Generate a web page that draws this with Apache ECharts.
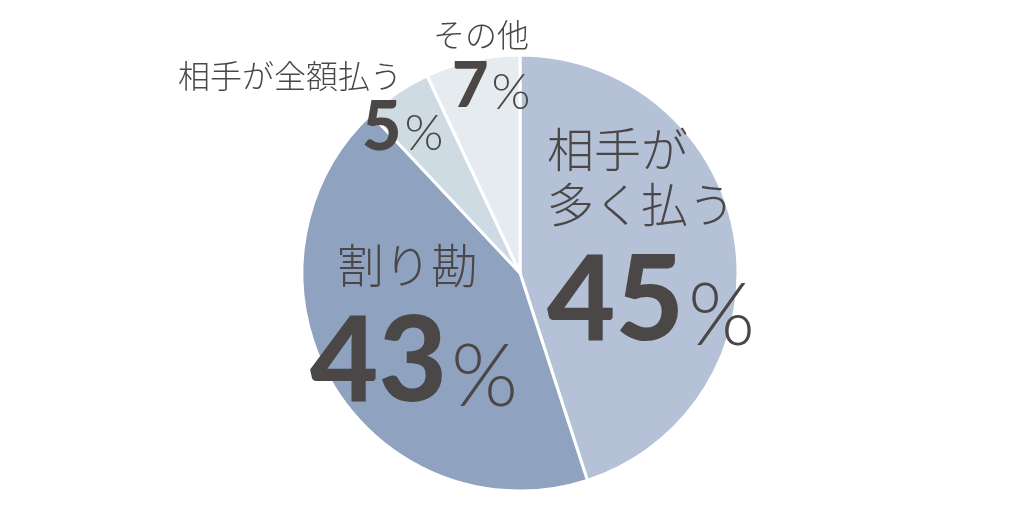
<!DOCTYPE html>
<html><head><meta charset="utf-8">
<script src="https://cdn.jsdelivr.net/npm/echarts@6/dist/echarts.min.js"></script>
<style>html,body{margin:0;padding:0;background:#fff}#c{width:1024px;height:509px}</style>
</head><body><div id="c"></div>
<script>
const categories = ['相手が多く払う', '割り勘', '相手が全額払う', 'その他'];
const values = [45, 43, 5, 7];
const labelNames = ['相手が\n多く払う', '割り勘', '相手が全額払う', 'その他'];

const colors = ['#b4c1d7', '#8fa2c0', '#cfdbe3', '#e5ebef'];
const TXT = '#4b4747';
const JP = '"Noto Sans CJK JP", sans-serif';
const NUM = 'Lato, "Noto Sans", sans-serif';

function bigRich(namePad) {
  return {
    name: {fontFamily: JP, fontWeight: 300, fontSize: 47, lineHeight: 55, color: TXT, padding: [0, 0, 0, namePad]},
    num: {fontFamily: NUM, fontWeight: 900, fontSize: 118, lineHeight: 140, color: TXT},
    pct: {fontFamily: NUM, fontWeight: 300, fontSize: 86, lineHeight: 110, color: TXT, padding: [30, 0, 0, 4]}
  };
}
function smallRich(numPad, numSize) {
  return {
    name: {fontFamily: JP, fontWeight: 300, fontSize: 32, lineHeight: 44, color: TXT},
    num: {fontFamily: NUM, fontWeight: 900, fontSize: numSize, lineHeight: 60, color: TXT, padding: [0, 0, 0, numPad]},
    pct: {fontFamily: NUM, fontWeight: 300, fontSize: 50, lineHeight: 48, color: TXT, padding: [12, 0, 0, 3]}
  };
}
// label anchors (left/top of text block), per slice
const labelPlace = [
  {x: 547, y: 122, rich: bigRich(0)},
  {x: 310, y: 238, rich: bigRich(27)},
  {x: 178, y: 54, rich: smallRich(184, 68)},
  {x: 433, y: 13, rich: smallRich(19, 63)}
];

const data = categories.map((c, i) => ({
  name: c,
  value: values[i],
  itemStyle: {color: colors[i]},
  label: {
    show: true,
    position: 'inside',
    formatter: '{name|' + labelNames[i] + '}\n{num|' + values[i] + '}{pct|%}',
    rich: labelPlace[i].rich,
    align: 'left'
  }
}));

const chart = echarts.init(document.getElementById('c'));
chart.setOption({
  animation: false,
  series: [{
    type: 'pie',
    center: [520, 273],
    radius: 218,
    startAngle: 90,
    clockwise: true,
    itemStyle: {borderColor: '#fff', borderWidth: 3},
    labelLine: {show: false},
    data: data,
    labelLayout: function (p) {
      const L = labelPlace[p.dataIndex];
      return {x: L.x, y: L.y, align: 'left', verticalAlign: 'top'};
    }
  }]
});
</script></body></html>
